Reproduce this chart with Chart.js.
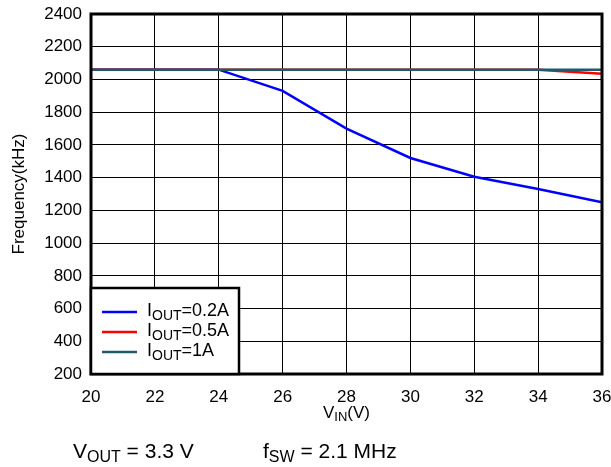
<!DOCTYPE html>
<html>
<head>
<meta charset="utf-8">
<script src="https://cdn.jsdelivr.net/npm/chart.js@4"></script>
<style>
  html, body { margin: 0; padding: 0; background: #fff; }
  #wrap { width: 611px; height: 467px; }
</style>
</head>
<body>
<div id="wrap"><canvas id="myChart" width="611" height="467"></canvas></div>
<script>
const vin = [20, 22, 24, 26, 28, 30, 32, 34, 36];
const iout02 = [2060, 2060, 2060, 1930, 1700, 1520, 1405, 1330, 1250];
const iout05 = [2060, 2060, 2060, 2060, 2060, 2060, 2060, 2060, 2035];
const iout1 = [2060, 2060, 2060, 2060, 2060, 2060, 2060, 2060, 2060];
const seriesNames = [['I', 'OUT', '=0.2A'], ['I', 'OUT', '=0.5A'], ['I', 'OUT', '=1A']];
const seriesColors = ['#0000ff', '#ff0000', '#1f5a6b'];

const FONT = '"Liberation Sans", Arial, sans-serif';

// text with a subscript part: [base, sub, rest]
function subText(ctx, parts, x, y, size) {
  ctx.font = size + 'px ' + FONT;
  ctx.fillText(parts[0], x, y);
  x += ctx.measureText(parts[0]).width;
  ctx.font = Math.round(size * 0.75) + 'px ' + FONT;
  ctx.fillText(parts[1], x, y + size * 0.28);
  x += ctx.measureText(parts[1]).width;
  ctx.font = size + 'px ' + FONT;
  ctx.fillText(parts[2], x, y);
  return x + ctx.measureText(parts[2]).width;
}
function subWidth(ctx, parts, size) {
  ctx.font = size + 'px ' + FONT;
  let w = ctx.measureText(parts[0]).width + ctx.measureText(parts[2]).width;
  ctx.font = Math.round(size * 0.75) + 'px ' + FONT;
  return w + ctx.measureText(parts[1]).width;
}

const extras = {
  id: 'extras',
  afterDraw(chart) {
    const ctx = chart.ctx;
    const a = chart.chartArea;
    ctx.save();
    // frame
    ctx.strokeStyle = '#000';
    ctx.lineWidth = 3;
    ctx.strokeRect(a.left, a.top, a.right - a.left, a.bottom - a.top);

    // legend box
    const lx = a.left, ly = 288, lw = 148, lh = a.bottom - ly;
    ctx.fillStyle = '#fff';
    ctx.fillRect(lx, ly, lw, lh);
    ctx.lineWidth = 2.5;
    ctx.strokeRect(lx, ly, lw, lh);
    ctx.textBaseline = 'middle';
    ctx.textAlign = 'left';
    for (let i = 0; i < seriesNames.length; i++) {
      const yy = 312 + i * 20;
      ctx.strokeStyle = seriesColors[i];
      ctx.lineWidth = 2.5;
      ctx.beginPath();
      ctx.moveTo(102, yy);
      ctx.lineTo(137, yy);
      ctx.stroke();
      ctx.fillStyle = '#000';
      subText(ctx, seriesNames[i], 147, yy - 1, 18);
    }

    // y title
    ctx.fillStyle = '#000';
    ctx.save();
    ctx.translate(19, (a.top + a.bottom) / 2);
    ctx.rotate(-Math.PI / 2);
    ctx.textAlign = 'center';
    ctx.font = '17px ' + FONT;
    ctx.fillText('Frequency(kHz)', 0, 0);
    ctx.restore();

    // x title
    ctx.textAlign = 'left';
    const xt = ['V', 'IN', '(V)'];
    const w = subWidth(ctx, xt, 17);
    subText(ctx, xt, (a.left + a.right) / 2 - w / 2, 413, 17);

    // conditions
    subText(ctx, ['V', 'OUT', ' = 3.3 V'], 73, 452, 21);
    subText(ctx, ['f', 'SW', ' = 2.1 MHz'], 263, 452, 21);
    ctx.restore();
  }
};

const ctx = document.getElementById('myChart').getContext('2d');
new Chart(ctx, {
  type: 'line',
  data: {
    datasets: [
      { data: vin.map((v, i) => ({ x: v, y: iout02[i] })), borderColor: seriesColors[0], order: 3 },
      { data: vin.map((v, i) => ({ x: v, y: iout05[i] })), borderColor: seriesColors[1], order: 2 },
      { data: vin.map((v, i) => ({ x: v, y: iout1[i] })), borderColor: seriesColors[2], order: 1 }
    ]
  },
  options: {
    responsive: false,
    animation: false,
    layout: { padding: { top: 14, right: 0, left: 0, bottom: 0 } },
    elements: {
      line: { borderWidth: 2.5, tension: 0, fill: false },
      point: { radius: 0 }
    },
    plugins: {
      legend: { display: false },
      tooltip: { enabled: false }
    },
    scales: {
      x: {
        type: 'linear',
        min: 20,
        max: 36,
        ticks: { stepSize: 2, color: '#000', font: { family: FONT, size: 17 }, padding: 13 },
        grid: { color: '#000', lineWidth: 1, drawTicks: false },
        border: { display: false },
        afterFit(scale) { scale.height = 93; scale.paddingRight = 9; scale.paddingLeft = 0; }
      },
      y: {
        min: 200,
        max: 2400,
        ticks: {
          stepSize: 200, color: '#000', font: { family: FONT, size: 17 }, padding: 9,
          callback: v => String(v)
        },
        grid: { color: '#000', lineWidth: 1, drawTicks: false },
        border: { display: false },
        afterFit(scale) { scale.width = 91; scale.paddingTop = 0; scale.paddingBottom = 0; }
      }
    }
  },
  plugins: [extras]
});
</script>
</body>
</html>
